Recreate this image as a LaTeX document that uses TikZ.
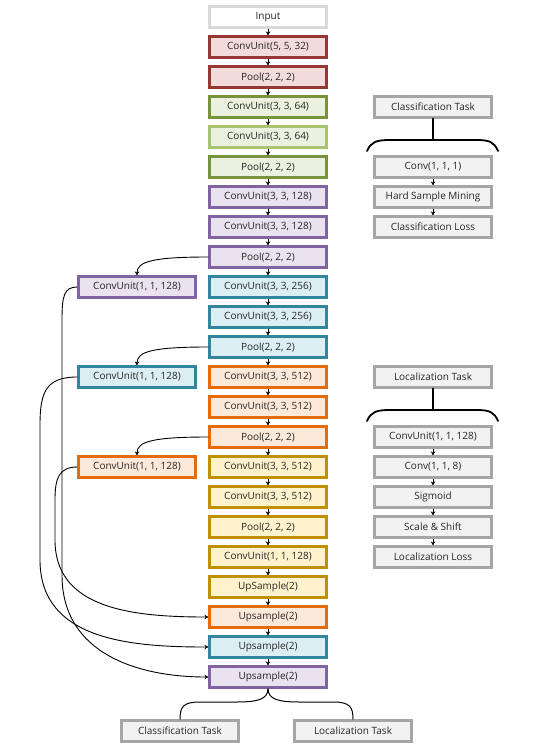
\documentclass[tikz,border=0pt]{standalone}
\usepackage{fontspec}
\setmainfont{Open Sans}
\usetikzlibrary{arrows.meta}

\definecolor{inpB}{HTML}{D9D9D9}
\definecolor{redB}{HTML}{953735}\definecolor{redF}{HTML}{F2DCDB}
\definecolor{grnB}{HTML}{77933C}\definecolor{grnF}{HTML}{EBF1DE}
\definecolor{grlB}{HTML}{A9C46E}
\definecolor{purB}{HTML}{8064A2}\definecolor{purF}{HTML}{E8E3EE}
\definecolor{tealB}{HTML}{31859C}\definecolor{tealF}{HTML}{DBEEF4}
\definecolor{orgB}{HTML}{E46C0A}\definecolor{orgF}{HTML}{FDE9D9}
\definecolor{yelB}{HTML}{BF9000}\definecolor{yelF}{HTML}{FFF2CC}
\definecolor{gryB}{HTML}{A6A6A6}\definecolor{gryF}{HTML}{F2F2F2}

\tikzset{
  box/.style={draw, line width=2.2pt, minimum width=117pt, minimum height=21pt,
    inner sep=0pt, font=\fontsize{10}{11}\selectfont, text=black!85},
  inp/.style={box, draw=inpB, fill=white},
  redbox/.style={box, draw=redB, fill=redF},
  grnbox/.style={box, draw=grnB, fill=grnF},
  grlbox/.style={box, draw=grlB, fill=grnF},
  purbox/.style={box, draw=purB, fill=purF},
  tealbox/.style={box, draw=tealB, fill=tealF},
  orgbox/.style={box, draw=orgB, fill=orgF},
  yelbox/.style={box, draw=yelB, fill=yelF},
  grybox/.style={box, draw=gryB, fill=gryF},
  arr/.style={-{Stealth[length=4pt,width=4.5pt]}, line width=0.9pt},
  link/.style={line width=1pt},
  brc/.style={line width=1.8pt, line cap=round},
}

\begin{document}
\begin{tikzpicture}[x=1pt, y=-1pt]
\useasboundingbox (0,0) rectangle (537,751);

% main column
\node[inp]     (m0)  at (268,17)  {Input};
\node[redbox]  (m1)  at (268,47)  {ConvUnit(5, 5, 32)};
\node[redbox]  (m2)  at (268,77)  {Pool(2, 2, 2)};
\node[grnbox]  (m3)  at (268,107) {ConvUnit(3, 3, 64)};
\node[grlbox]  (m4)  at (268,137) {ConvUnit(3, 3, 64)};
\node[grnbox]  (m5)  at (268,167) {Pool(2, 2, 2)};
\node[purbox]  (m6)  at (268,197) {ConvUnit(3, 3, 128)};
\node[purbox]  (m7)  at (268,227) {ConvUnit(3, 3, 128)};
\node[purbox]  (m8)  at (268,257) {Pool(2, 2, 2)};
\node[tealbox] (m9)  at (268,287) {ConvUnit(3, 3, 256)};
\node[tealbox] (m10) at (268,317) {ConvUnit(3, 3, 256)};
\node[tealbox] (m11) at (268,347) {Pool(2, 2, 2)};
\node[orgbox]  (m12) at (268,377) {ConvUnit(3, 3, 512)};
\node[orgbox]  (m13) at (268,407) {ConvUnit(3, 3, 512)};
\node[orgbox]  (m14) at (268,437) {Pool(2, 2, 2)};
\node[yelbox]  (m15) at (268,467) {ConvUnit(3, 3, 512)};
\node[yelbox]  (m16) at (268,497) {ConvUnit(3, 3, 512)};
\node[yelbox]  (m17) at (268,527) {Pool(2, 2, 2)};
\node[yelbox]  (m18) at (268,557) {ConvUnit(1, 1, 128)};
\node[yelbox]  (m19) at (268,587) {UpSample(2)};
\node[orgbox]  (m20) at (268,617) {Upsample(2)};
\node[tealbox] (m21) at (268,647) {Upsample(2)};
\node[purbox]  (m22) at (268,677) {Upsample(2)};

\foreach \i in {0,...,21} {
  \pgfmathtruncatemacro\j{\i+1}
  \draw[arr] (m\i) -- (m\j);
}

% side branches
\node[purbox]  (s1) at (137,287) {ConvUnit(1, 1, 128)};
\node[tealbox] (s2) at (137,377) {ConvUnit(1, 1, 128)};
\node[orgbox]  (s3) at (137,467) {ConvUnit(1, 1, 128)};

\draw[arr] (m8.west)  .. controls +(-55,0) and +(0,-14) .. (s1.north);
\draw[arr] (m11.west) .. controls +(-55,0) and +(0,-14) .. (s2.north);
\draw[arr] (m14.west) .. controls +(-55,0) and +(0,-14) .. (s3.north);

\draw[arr] (s1.west) .. controls (64,287) and (62,296) .. (62,320)
  -- (62,575) .. controls (62,655) and (140,677) .. (m22.west);
\draw[arr] (s2.west) .. controls (46,377) and (40,392) .. (40,425)
  -- (40,560) .. controls (40,640) and (130,647) .. (m21.west);
\draw[arr] (s3.west) .. controls (59,467) and (55,478) .. (55,500)
  -- (55,540) .. controls (55,608) and (130,617) .. (m20.west);

% output split
\node[grybox] (t1) at (180,731) {Classification Task};
\node[grybox] (t2) at (353,731) {Localization Task};
\draw[link] (m22.south) .. controls (268,700) and (256,702) .. (236,702)
  -- (200,702) .. controls (183,702) and (180,707) .. (t1.north);
\draw[link] (m22.south) .. controls (268,700) and (280,702) .. (300,702)
  -- (333,702) .. controls (350,702) and (353,707) .. (t2.north);

% classification head
\node[grybox] (c0) at (433,107) {Classification Task};
\node[grybox] (c1) at (433,167) {Conv(1, 1, 1)};
\node[grybox] (c2) at (433,197) {Hard Sample Mining};
\node[grybox] (c3) at (433,227) {Classification Loss};
\draw[arr] (c1) -- (c2);
\draw[arr] (c2) -- (c3);
\coordinate (cb) at (433,140);
\draw[brc] (c0.south) -- (cb);
\draw[brc] (367,151) .. controls (371,142) and (376,140) .. (390,140)
  -- (476,140) .. controls (490,140) and (494,142) .. (498,151);

% localization head
\node[grybox] (l0) at (433,377) {Localization Task};
\node[grybox] (l1) at (433,437) {ConvUnit(1, 1, 128)};
\node[grybox] (l2) at (433,467) {Conv(1, 1, 8)};
\node[grybox] (l3) at (433,497) {Sigmoid};
\node[grybox] (l4) at (433,527) {Scale \& Shift};
\node[grybox] (l5) at (433,557) {Localization Loss};
\foreach \a/\b in {l1/l2,l2/l3,l3/l4,l4/l5} \draw[arr] (\a) -- (\b);
\coordinate (lb) at (433,410);
\draw[brc] (l0.south) -- (lb);
\draw[brc] (367,421) .. controls (371,412) and (376,410) .. (390,410)
  -- (476,410) .. controls (490,410) and (494,412) .. (498,421);
\end{tikzpicture}
\end{document}
